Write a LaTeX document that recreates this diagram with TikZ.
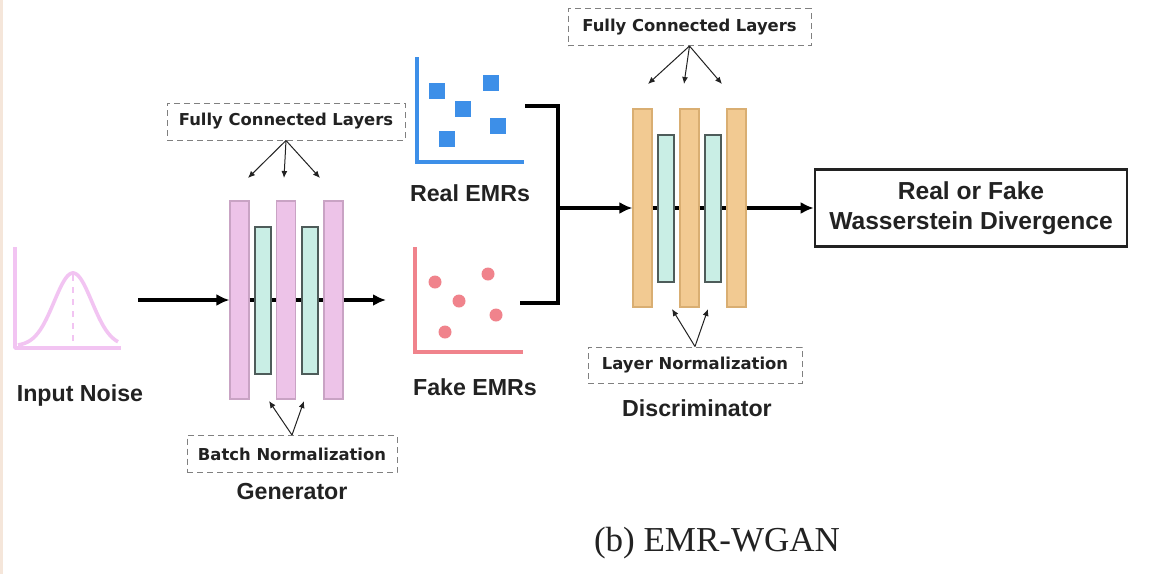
\documentclass[tikz,border=0pt]{standalone}
\usepackage{fontspec}
\setmainfont{Liberation Sans}
\newfontfamily\boxfont{DejaVu Sans}
\newfontfamily\capfont{Liberation Serif}
\usetikzlibrary{arrows.meta}
\definecolor{pinkfill}{HTML}{EDC3E8}
\definecolor{pinkedge}{HTML}{C9A3C4}
\definecolor{tealfill}{HTML}{C9EEE5}
\definecolor{tealedge}{HTML}{4E5C5A}
\definecolor{orangefill}{HTML}{F2CA92}
\definecolor{orangeedge}{HTML}{D9AE72}
\definecolor{noisepink}{HTML}{F2C4F2}
\definecolor{realblue}{HTML}{3D8FE8}
\definecolor{fakered}{HTML}{F0838C}
\definecolor{beige}{HTML}{F5E6DA}
\definecolor{txt}{HTML}{222222}
\tikzset{
  pinkbar/.style={draw=pinkedge, line width=0.6pt, fill=pinkfill, minimum width=9.5pt, minimum height=99pt, inner sep=0pt},
  orangebar/.style={draw=orangeedge, line width=0.6pt, fill=orangefill, minimum width=9.5pt, minimum height=99pt, inner sep=0pt},
  tealbar/.style={draw=tealedge, line width=1pt, fill=tealfill, minimum width=8pt, minimum height=73.5pt, inner sep=0pt},
  mainarrow/.style={line width=1.7pt, draw=black, -{Latex[length=6.5pt,width=6pt]}},
  mainline/.style={line width=1.7pt, draw=black},
  thinarrow/.style={line width=0.5pt, draw=txt, -{Latex[length=3.5pt,width=3pt]}},
  dashbox/.style={draw=gray, densely dashed, line width=0.5pt, inner sep=0pt, minimum height=18.5pt, font=\boxfont\bfseries\fontsize{8.2}{10}\selectfont, text=txt},
  label/.style={font=\bfseries\fontsize{11.6}{14}\selectfont, text=txt, inner sep=0pt},
}
\begin{document}
\begin{tikzpicture}[x=0.5pt,y=-0.5pt]
\useasboundingbox (0,0) rectangle (1158,574);
\fill[white] (0,0) rectangle (1158,574);
\fill[beige] (0,0) rectangle (3,574);

% ---- Input noise ----
\draw[noisepink, line width=1.8pt, line join=round] (15,247) -- (15,348) -- (121,348);
\draw[noisepink, line width=1.8pt] plot[domain=18:118, samples=80, smooth] (\x, {346-73*exp(-((\x-73)/26.7)^2)});
\draw[noisepink, line width=1pt, dashed] (73,275) -- (73,346);
\node[label] (noise) at (80,395) {Input Noise};

% ---- Generator ----
\node[pinkbar] (g1) at (239.5,300) {};
\node[tealbar] (t1) at (262.5,300) {};
\node[pinkbar] (g2) at (286,300) {};
\node[tealbar] (t2) at (309.5,300) {};
\node[pinkbar] (g3) at (333.5,300) {};
\coordinate (gin) at (138,300);
\coordinate (gout) at (386,300);
\draw[mainarrow] (gin) -- (g1.west);
\draw[mainline] (g1.east) -- (t1.west);
\draw[mainline] (t1.east) -- (g2.west);
\draw[mainline] (g2.east) -- (t2.west);
\draw[mainline] (t2.east) -- (g3.west);
\draw[mainarrow] (g3.east) -- (gout);

\node[dashbox, minimum width=119pt] (fcg) at (286,121.5) {Fully Connected Layers};
\coordinate (fcg1) at (248,178);
\coordinate (fcg2) at (284,178);
\coordinate (fcg3) at (320,178);
\draw[thinarrow] (fcg.south) -- (fcg1);
\draw[thinarrow] (fcg.south) -- (fcg2);
\draw[thinarrow] (fcg.south) -- (fcg3);

\node[dashbox, minimum width=105pt] (bn) at (292,454) {Batch Normalization};
\coordinate (bn1) at (269,401);
\coordinate (bn2) at (304,401);
\draw[thinarrow] (bn.north) -- (bn1);
\draw[thinarrow] (bn.north) -- (bn2);
\node[label] (gen) at (292,492) {Generator};

% ---- Real EMRs ----
\draw[realblue, line width=2pt] (417,57) -- (417,162) -- (524,162);
\foreach \px/\py in {437/91, 491/83, 463/109, 498/126, 447/139}
  \fill[realblue] (\px-8,\py-8) rectangle (\px+8,\py+8);
\node[label] (real) at (470,193) {Real EMRs};

% ---- Fake EMRs ----
\draw[fakered, line width=2pt] (415,247) -- (415,352) -- (523,352);
\foreach \px/\py in {435/282, 488/274, 459/301, 496/315, 445/332}
  \fill[fakered] (\px,\py) circle (6.5);
\node[label] (fake) at (475,387) {Fake EMRs};

% ---- Bracket ----
\coordinate (rb) at (525,106);
\coordinate (fb) at (520,303);
\coordinate (bt) at (558,106);
\coordinate (bb) at (558,303);
\coordinate (bm) at (558,208);
\draw[mainline, line join=miter] (rb) -- (bt) -- (bb) -- (fb);

% ---- Discriminator ----
\node[orangebar] (d1) at (642.5,208) {};
\node[tealbar] (u1) at (665.5,208) {};
\node[orangebar] (d2) at (689.5,208) {};
\node[tealbar] (u2) at (713,208) {};
\node[orangebar] (d3) at (736.5,208) {};
\draw[mainarrow] (bm) -- (d1.west);
\draw[mainline] (d1.east) -- (u1.west);
\draw[mainline] (u1.east) -- (d2.west);
\draw[mainline] (d2.east) -- (u2.west);
\draw[mainline] (u2.east) -- (d3.west);

\node[dashbox, minimum width=121.5pt] (fcd) at (689.5,27) {Fully Connected Layers};
\coordinate (fcd1) at (648,84);
\coordinate (fcd2) at (684,84);
\coordinate (fcd3) at (722,84);
\draw[thinarrow] (fcd.south) -- (fcd1);
\draw[thinarrow] (fcd.south) -- (fcd2);
\draw[thinarrow] (fcd.south) -- (fcd3);

\node[dashbox, minimum width=107pt, minimum height=18pt] (ln) at (695,365) {Layer Normalization};
\coordinate (ln1) at (672,309);
\coordinate (ln2) at (708,309);
\draw[thinarrow] (ln.north) -- (ln1);
\draw[thinarrow] (ln.north) -- (ln2);
\node[label] (disc) at (697,408) {Discriminator};

% ---- Output ----
\node[draw=txt, line width=1.3pt, minimum width=156pt, minimum height=38.5pt, inner sep=0pt, align=center,
      font=\bfseries\fontsize{12.3}{15}\selectfont, text=txt] (out) at (971,208) {Real or Fake\\Wasserstein Divergence};
\draw[mainarrow] (d3.east) -- (out.west);

% ---- Caption ----
\node[font=\capfont\fontsize{17.5}{20}\selectfont, text=txt, inner sep=0pt] (cap) at (717,543) {(b) EMR-WGAN};
\end{tikzpicture}
\end{document}
